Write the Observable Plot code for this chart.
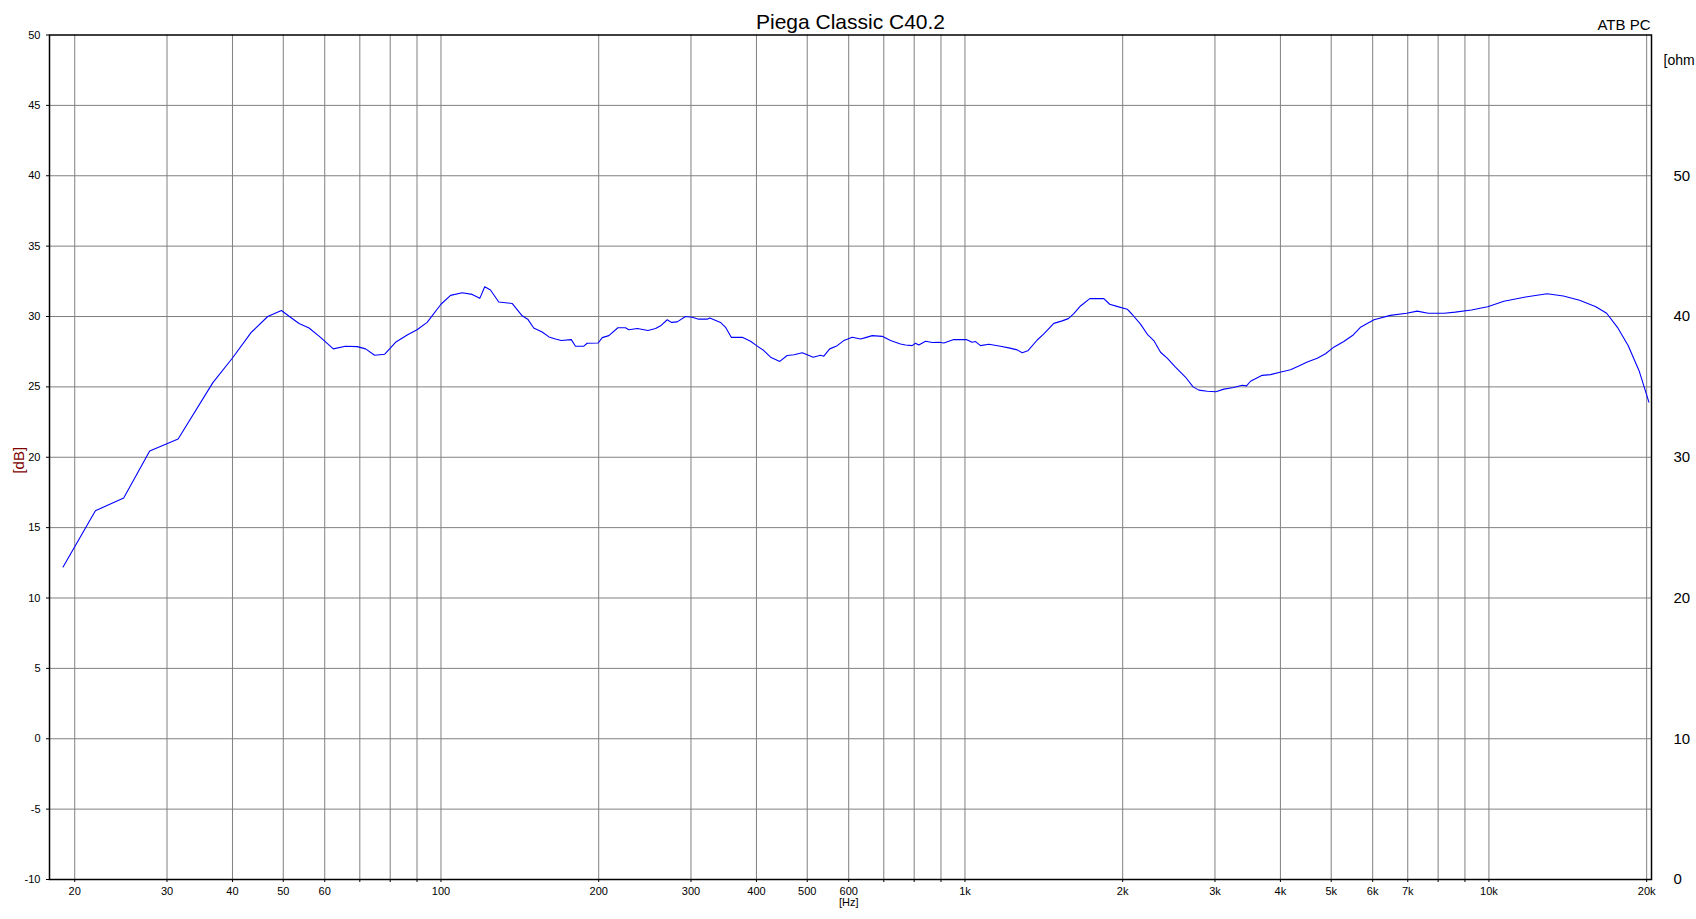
<!DOCTYPE html>
<html>
<head>
<meta charset="utf-8">
<script src="https://cdn.jsdelivr.net/npm/d3@7"></script>
<script src="https://cdn.jsdelivr.net/npm/@observablehq/plot@0.6"></script>
<style>
  html, body { margin: 0; padding: 0; background: #fff; }
  #chart { width: 1696px; height: 919px; }
</style>
</head>
<body>
<div id="chart"></div>
<script>
// ---- data ----
const title = "Piega Classic C40.2";
const cornerNote = "ATB PC";
const xUnit = "[Hz]";
const yUnitLeft = "[dB]";
const yUnitRight = "[ohm";

const freqHz = [
  19, 21.9, 24.8, 27.8, 31.5, 36.7, 40, 43.4, 46.7, 49.6,
  51.6, 53.6, 56, 58.9, 62.3, 65.7, 69.2, 71.8, 74.7, 78.1,
  81.9, 86.2, 90, 94.1, 100, 104.3, 109.8, 114.7, 118.6, 121.2,
  124.3, 128.9, 136.8, 142.9, 146.4, 150.3, 156, 160.7, 165.4, 169.6,
  177.3, 180.6, 187.3, 190.1, 199.5, 203.1, 209.1, 217.6, 225, 228.3,
  237, 248.3, 256.8, 262.5, 270.3, 275.1, 282.4, 292.8, 301.6, 310.5,
  322.2, 325.9, 341.6, 349.2, 358.1, 375.8, 389.8, 400.2, 413.2, 425.6,
  434.9, 443.2, 457.8, 472, 489, 500, 513.3, 530, 537.8, 552,
  570.4, 587.1, 596, 609.1, 632, 646, 665.3, 695.1, 721, 753.4,
  769.9, 793, 804.6, 816.4, 841, 866.2, 891.7, 911.4, 952.2, 1006,
  1032, 1047.6, 1070.7, 1110.5, 1169.2, 1212.6, 1258.3, 1286.2, 1318.2, 1373.8,
  1414.2, 1477.8, 1533, 1575, 1613.5, 1661.6, 1730.9, 1840.9, 1889, 1957,
  2040, 2084, 2163, 2234, 2293, 2362, 2432, 2522, 2635, 2725,
  2795, 2900, 3011, 3120, 3258, 3381, 3446, 3508, 3692, 3829,
  4010, 4181, 4337, 4500, 4703, 4877, 5057, 5284, 5508, 5685,
  6036, 6482, 6961, 7298, 7655, 8221, 8621, 9259, 9944, 10680,
  11745, 12913, 13868, 14895, 15997, 16775, 17590, 18445, 19343, 20198
];
const levelDb = [
  12.2, 16.2, 17.1, 20.45, 21.3, 25.3, 27.05, 28.85, 30.0, 30.43,
  29.95, 29.5, 29.18, 28.52, 27.7, 27.89, 27.86, 27.7, 27.25, 27.32,
  28.17, 28.69, 29.06, 29.58, 30.87, 31.5, 31.69, 31.57, 31.29, 32.11,
  31.88, 31.03, 30.92, 30.05, 29.81, 29.18, 28.9, 28.55, 28.4, 28.29,
  28.36, 27.89, 27.89, 28.1, 28.12, 28.5, 28.64, 29.2, 29.2, 29.06,
  29.15, 29.01, 29.15, 29.34, 29.77, 29.58, 29.62, 30.0, 29.95, 29.81,
  29.81, 29.9, 29.58, 29.23, 28.52, 28.52, 28.24, 27.93, 27.58, 27.11,
  26.95, 26.81, 27.23, 27.28, 27.42, 27.28, 27.11, 27.25, 27.18, 27.7,
  27.93, 28.29, 28.38, 28.52, 28.4, 28.5, 28.64, 28.59, 28.29, 28.05,
  27.98, 27.93, 28.1, 27.98, 28.24, 28.15, 28.17, 28.12, 28.36, 28.36,
  28.17, 28.22, 27.93, 28.03, 27.89, 27.77, 27.63, 27.42, 27.56, 28.33,
  28.76, 29.51, 29.69, 29.85, 30.2, 30.75, 31.27, 31.27, 30.87, 30.7,
  30.52, 30.16, 29.46, 28.69, 28.29, 27.46, 27.04, 26.41, 25.7, 25.0,
  24.77, 24.69, 24.65, 24.84, 24.95, 25.12, 25.07, 25.4, 25.82, 25.87,
  26.06, 26.22, 26.48, 26.76, 27.04, 27.35, 27.82, 28.22, 28.69, 29.23,
  29.77, 30.08, 30.23, 30.38, 30.23, 30.23, 30.31, 30.46, 30.69, 31.08,
  31.38, 31.62, 31.46, 31.15, 30.69, 30.23, 29.23, 27.92, 26.15, 23.92
];

// tick values
const xGridTicks = [20, 30, 40, 50, 60, 70, 80, 90, 100,
  200, 300, 400, 500, 600, 700, 800, 900, 1000,
  2000, 3000, 4000, 5000, 6000, 7000, 8000, 9000, 10000, 20000];
const xLabelTicks = [20, 30, 40, 50, 60, 80, 100, 200, 300, 400, 500, 600, 800,
  1000, 2000, 3000, 4000, 5000, 6000, 7000, 8000, 10000, 20000];
const dbTicks = [-10, -5, 0, 5, 10, 15, 20, 25, 30, 35, 40, 45, 50];
const dbGrid = [-5, 0, 5, 10, 15, 20, 25, 30, 35, 40, 45];
const ohmTicks = [0, 10, 20, 30, 40, 50];
const ohmOffset = 10; // ohm axis value = dB value + 10

// ---- build ----
const curve = freqHz.map((f, i) => ({f, db: levelDb[i]}));
const labelSet = new Set(xLabelTicks);
const fmtHz = d => d >= 1000 ? (d / 1000) + "k" : String(d);
const font = "'Liberation Sans', Arial, sans-serif";

const chart = Plot.plot({
  width: 1696,
  height: 919,
  marginLeft: 49,
  marginRight: 45,
  marginTop: 34.5,
  marginBottom: 40,
  style: {fontFamily: font, color: "black", background: "white", overflow: "hidden"},
  x: {type: "log", domain: [17.9, 20430], label: null},
  y: {domain: [-10, 50], label: null},
  marks: [
    Plot.gridX(xGridTicks, {stroke: "#808080", strokeOpacity: 1, strokeWidth: 1}),
    Plot.gridY(dbGrid, {stroke: "#808080", strokeOpacity: 1, strokeWidth: 1}),
    Plot.axisX(xGridTicks, {
      anchor: "bottom", tickSize: 3, tickPadding: 5, fontSize: 11,
      tickFormat: d => labelSet.has(d) ? fmtHz(d) : "", label: null
    }),
    Plot.axisY(dbTicks, {anchor: "left", tickSize: 3, tickPadding: 6, fontSize: 11,
      tickFormat: d => String(d), label: null}),
    Plot.axisY(ohmTicks.map(o => o - ohmOffset), {
      anchor: "right", tickSize: 0, tickPadding: 22, fontSize: 15,
      tickFormat: d => String(d + ohmOffset), label: null
    }),
    Plot.line(curve, {x: "f", y: "db", stroke: "#0000ff", strokeWidth: 1.1}),
    Plot.frame({stroke: "black", strokeWidth: 1.5}),
    Plot.text([title], {frameAnchor: "top", lineAnchor: "middle", dy: -13, fontSize: 21, fill: "black"}),
    Plot.text([cornerNote], {frameAnchor: "top-right", textAnchor: "end", lineAnchor: "middle", dx: -1, dy: -9.6, fontSize: 15, fill: "black"}),
    Plot.text([yUnitRight], {frameAnchor: "top-right", textAnchor: "start", lineAnchor: "middle", dx: 12, dy: 26, fontSize: 14, fill: "black"}),
    Plot.text([xUnit], {x: [600], frameAnchor: "bottom", lineAnchor: "middle", dy: 23, fontSize: 11, fill: "black"}),
    Plot.text([yUnitLeft], {frameAnchor: "left", textAnchor: "middle", lineAnchor: "middle", dx: -30.6, dy: 3, rotate: -90, fontSize: 15, fill: "#800000"})
  ]
});
document.getElementById("chart").appendChild(chart);
</script>
</body>
</html>
